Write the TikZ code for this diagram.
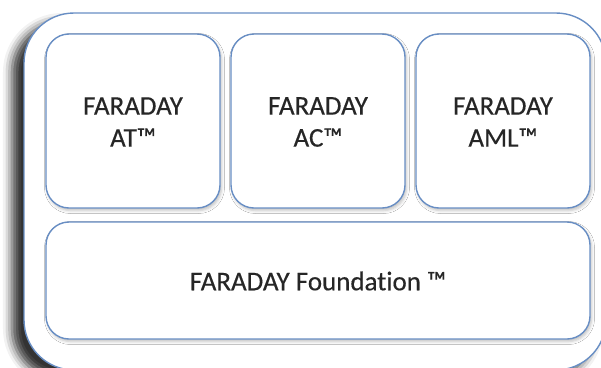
\documentclass[tikz,border=0pt]{standalone}
\usepackage{fontspec}
\setmainfont{Carlito}[Ligatures=NoCommon]
\newfontfamily\labelfont{Carlito}[Ligatures=NoCommon, FakeBold=0.4]
\usetikzlibrary{shadows.blur}

\definecolor{frameblue}{RGB}{104,142,196}

\tikzset{
  layer/.style={draw=frameblue, line width=1.4pt, fill=white, rounded corners=23pt,
    blur shadow={shadow xshift=1.5pt, shadow yshift=-2.5pt, shadow blur radius=3pt, shadow opacity=25}},
  label/.style={font=\labelfont\fontsize{27}{32}\selectfont, text=black!85, align=center}
}

\begin{document}
\begin{tikzpicture}[x=1pt, y=-1pt]
\useasboundingbox (0,0) rectangle (601,367);
% outer frame, runs a little past the page on the right and bottom
\begin{scope}
\clip (0,0) rectangle (601,367);
\draw[draw=frameblue, line width=1.4pt, fill=white, rounded corners=50pt,
  blur shadow={shadow xshift=-12pt, shadow yshift=-9pt, shadow blur radius=9pt, shadow opacity=80}]
  (24,13) rectangle (606,370);
\end{scope}
% product boxes
\draw[layer] (46,34) rectangle (220,208);
\draw[layer] (231,34) rectangle (405,208);
\draw[layer] (416,34) rectangle (590,208);
\draw[layer] (46,222) rectangle (590,339);
\node[label] (at) at (133,122) {FARADAY\\AT™};
\node[label] (ac) at (318,122) {FARADAY\\AC™};
\node[label] (aml) at (503,122) {FARADAY\\AML™};
\node[label] (found) at (318,281) {FARADAY Foundation ™};
\end{tikzpicture}
\end{document}
